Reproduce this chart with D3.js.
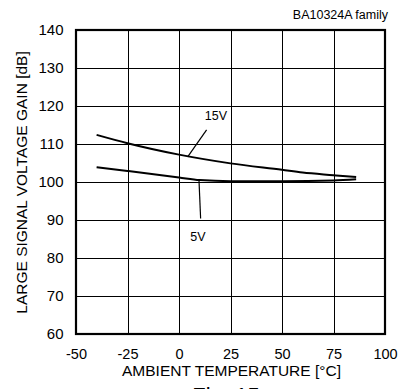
<!DOCTYPE html>
<html><head><meta charset="utf-8">
<script src="https://cdn.jsdelivr.net/npm/d3@7"></script>
<style>body{margin:0;background:#fff;}svg{display:block;font-family:"Liberation Sans",Arial,sans-serif;}</style>
</head><body>
<script>
const xTicks = [-50,-25,0,25,50,75,100];
const yTicks = [60,70,80,90,100,110,120,130,140];
const temp15 = [-40,-25,0,25,50,60,75,86];
const gain15 = [112.4,110.2,107.2,104.9,103.2,102.5,101.8,101.3];
const temp5 = [-40,-25,0,10,25,50,75,86];
const gain5 = [103.9,102.9,101.2,100.5,100.2,100.2,100.4,100.7];
const title = "BA10324A  family";
const xLabel = "AMBIENT TEMPERATURE [°C]";
const yLabel = "LARGE SIGNAL VOLTAGE GAIN [dB]";
const caption = "Fig. 15";

const W=402,H=389;
const svg=d3.select("body").append("svg").attr("width",W).attr("height",H);
const x=d3.scaleLinear().domain([-50,100]).range([76,385]);
const y=d3.scaleLinear().domain([60,140]).range([334,30]);

const grid=svg.append("g").attr("stroke","#000").attr("stroke-width",1);
grid.selectAll(".vx").data(xTicks.slice(1,-1)).enter().append("line")
  .attr("x1",d=>Math.round(x(d))+0.5).attr("x2",d=>Math.round(x(d))+0.5).attr("y1",y(140)).attr("y2",y(60));
grid.selectAll(".hy").data(yTicks.slice(1,-1)).enter().append("line")
  .attr("y1",d=>Math.round(y(d))+0.5).attr("y2",d=>Math.round(y(d))+0.5).attr("x1",x(-50)).attr("x2",x(100));
svg.append("rect").attr("x",x(-50)).attr("y",y(140)).attr("width",x(100)-x(-50)).attr("height",y(60)-y(140))
  .attr("fill","none").attr("stroke","#000").attr("stroke-width",2.2);

const fmt=d=>String(d);
const xAxis=d3.axisBottom(x).tickValues(xTicks).tickFormat(fmt).tickSize(0).tickPadding(15);
svg.append("g").attr("transform",`translate(0,${y(60)})`).call(xAxis)
  .call(g=>g.select(".domain").remove())
  .selectAll("text").attr("font-size",14.5).attr("font-family","Liberation Sans, Arial, sans-serif").attr("fill","#000");
const yAxis=d3.axisLeft(y).tickValues(yTicks).tickFormat(fmt).tickSize(0).tickPadding(12.5);
svg.append("g").attr("transform",`translate(${x(-50)},0)`).call(yAxis)
  .call(g=>g.select(".domain").remove())
  .selectAll("text").attr("font-size",15).attr("font-family","Liberation Sans, Arial, sans-serif").attr("fill","#000");

const line=d3.line().x(d=>x(d[0])).y(d=>y(d[1])).curve(d3.curveMonotoneX);
svg.append("path").datum(temp15.map((t,i)=>[t,gain15[i]])).attr("d",line)
  .attr("fill","none").attr("stroke","#000").attr("stroke-width",2);
svg.append("path").datum(temp5.map((t,i)=>[t,gain5[i]])).attr("d",line)
  .attr("fill","none").attr("stroke","#000").attr("stroke-width",2);

// leaders
svg.append("line").attr("x1",x(4.2)).attr("y1",y(106.6)).attr("x2",x(13.4)).attr("y2",y(113.7)).attr("stroke","#000").attr("stroke-width",1.2);
svg.append("text").attr("x",x(12.5)).attr("y",y(116.2)).attr("font-size",12.5).text("15V");
svg.append("line").attr("x1",x(9.7)).attr("y1",y(100.5)).attr("x2",x(10.5)).attr("y2",y(90.4)).attr("stroke","#000").attr("stroke-width",1.2);
svg.append("text").attr("x",x(9.2)).attr("y",y(84.6)).attr("text-anchor","middle").attr("font-size",12.5).text("5V");

svg.append("text").attr("x",388).attr("y",18.5).attr("text-anchor","end").attr("font-size",12.5).text(title);
svg.append("text").attr("x",231.5).attr("y",376).attr("text-anchor","middle").attr("font-size",15.5).text(xLabel);
svg.append("text").attr("x",226).attr("y",403).attr("text-anchor","middle").attr("font-size",22).text(caption);
svg.append("text").attr("transform",`translate(27,182.5) rotate(-90)`).attr("text-anchor","middle").attr("font-size",15.5).text(yLabel);
</script>
</body></html>
